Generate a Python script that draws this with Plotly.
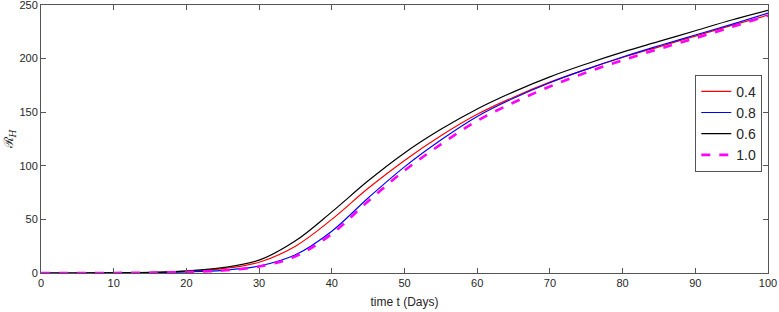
import plotly.graph_objects as go

t = [0, 5, 10, 15, 20, 25, 30, 35, 40, 45, 50, 55, 60, 65, 70, 75, 80, 85, 90, 95, 100]
r_04 = [0, 0, 0.1, 0.4, 1.5, 4, 10, 25, 50, 79, 105, 128, 148, 164, 178, 190, 201, 211, 221, 231, 240.5]
r_08 = [0, 0, 0.05, 0.3, 1, 2.5, 6.5, 17, 39, 70, 99, 124, 146, 163, 177.5, 190, 201.5, 212, 222, 232, 242.5]
r_06 = [0, 0, 0.1, 0.5, 2, 5, 12, 30, 57, 86, 112, 134, 153, 169, 183, 195, 206, 216, 226, 236, 245]
r_10 = [0, 0, 0.05, 0.3, 1, 2.3, 6, 15.5, 36.5, 67, 95.5, 120, 142, 159, 174, 187, 198.5, 209, 219, 229.5, 240]

names = ["0.4", "0.8", "0.6", "1.0"]
series = [r_04, r_08, r_06, r_10]
colors = ["#ff0000", "#0000ff", "#000000", "#ff00ff"]
widths = [1.2, 1.2, 1.2, 2.6]
dashes = ["solid", "solid", "solid", "dash"]

fig = go.Figure()
for n, s, c, w, d in zip(names, series, colors, widths, dashes):
    fig.add_trace(go.Scatter(x=t, y=s, mode="lines", name=n,
                             line=dict(color=c, width=w, dash=d, shape="spline", smoothing=1.0)))

axis_common = dict(showline=True, linecolor="#555555", linewidth=1, mirror="ticks",
                   ticks="inside", ticklen=5, tickcolor="#555555", showgrid=False,
                   zeroline=False, automargin=False, ticklabeloverflow="allow",
                   tickfont=dict(family="Liberation Sans, Arial", size=11, color="#262626"))

fig.update_layout(
    width=779, height=312,
    margin=dict(l=41, r=11, t=5, b=39),
    paper_bgcolor="white", plot_bgcolor="white",
    font=dict(family="Liberation Sans, Arial", size=11, color="#262626"),
    xaxis=dict(range=[0, 100], tickvals=[0, 10, 20, 30, 40, 50, 60, 70, 80, 90, 100],
               title=dict(text="time t (Days)", font=dict(size=12), standoff=9), **axis_common),
    yaxis=dict(range=[0, 250], tickvals=[0, 50, 100, 150, 200, 250],
               title=dict(text="ℛ<sub><i>H</i></sub>", font=dict(size=13, family="DejaVu Serif"), standoff=2),
               **axis_common),
    legend=dict(x=0.9, y=0.74, xanchor="left", yanchor="top", bgcolor="white",
                bordercolor="#555555", borderwidth=1, font=dict(size=14, color="#262626"),
                itemwidth=30, tracegroupgap=0),
    showlegend=True,
)

fig.write_html("out.html", config={"displayModeBar": False},
               post_script="document.body.style.margin='0';document.body.style.overflow='hidden';")
